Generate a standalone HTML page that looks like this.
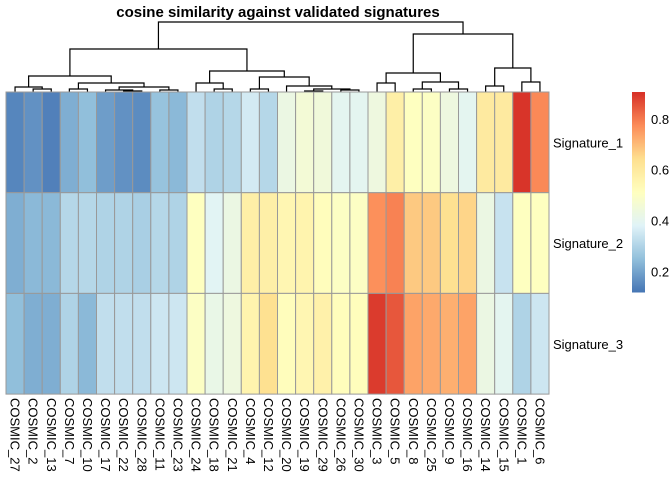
<!DOCTYPE html>
<html><head><meta charset="utf-8"><style>
html,body{margin:0;padding:0;background:#fff;}
svg{display:block;font-family:"Liberation Sans",Arial,sans-serif;}
</style></head><body>
<svg id="chart" width="672" height="480" viewBox="0 0 672 480">
<text x="278" y="17" text-anchor="middle" font-size="15" font-weight="bold">cosine similarity against validated signatures</text>
<g id="dendro"></g>
<g id="cells"></g>
<g id="collabels"></g>
<g id="rowlabels"></g>
<g id="legend"></g>
</svg>
<script>
const columns = ["COSMIC_27","COSMIC_2","COSMIC_13","COSMIC_7","COSMIC_10","COSMIC_17","COSMIC_22","COSMIC_28","COSMIC_11","COSMIC_23","COSMIC_24","COSMIC_18","COSMIC_21","COSMIC_4","COSMIC_12","COSMIC_20","COSMIC_19","COSMIC_29","COSMIC_26","COSMIC_30","COSMIC_3","COSMIC_5","COSMIC_8","COSMIC_25","COSMIC_9","COSMIC_16","COSMIC_14","COSMIC_15","COSMIC_1","COSMIC_6"];
const rows = ["Signature_1","Signature_2","Signature_3"];
const sig1 = [0.15,0.17,0.14,0.22,0.25,0.19,0.17,0.16,0.26,0.24,0.33,0.30,0.31,0.36,0.31,0.43,0.46,0.45,0.40,0.40,0.44,0.58,0.51,0.50,0.44,0.40,0.60,0.60,0.90,0.78];
const sig2 = [0.22,0.24,0.24,0.31,0.31,0.30,0.30,0.29,0.31,0.30,0.51,0.39,0.43,0.58,0.58,0.55,0.56,0.52,0.50,0.50,0.77,0.79,0.68,0.68,0.64,0.66,0.43,0.34,0.51,0.51];
const sig3 = [0.25,0.22,0.22,0.30,0.24,0.33,0.33,0.33,0.35,0.35,0.50,0.42,0.44,0.56,0.64,0.52,0.55,0.57,0.52,0.52,0.89,0.85,0.74,0.73,0.72,0.74,0.43,0.40,0.30,0.35];
const legendTicks = [0.2,0.4,0.6,0.8];
// dendrogram: [left, right, height]; numbers = leaf index, arrays = subtree
const tree = [
  [
    [
      [0,[1,2,3],5],
      [[3,4,3],[[5,[6,7,1],2],[8,9,2],5],9],
      16],
    [
      [10,[11,12,3],9],
      [[13,14,3],[15,[[16,17,1],[18,19,2],3],6],15],
      21],
    43],
  [
    [[20,21,9],[[22,23,3],[24,25,3],10],19],
    [[26,27,6],[28,29,10],24],
    58],
  70];

const NS="http://www.w3.org/2000/svg";
const X0=6, CW=18.1, Y0=92, RH=100.7, VMIN=0.12, VMAX=0.905;
const xCol = i => X0 + CW*i;
const yRow = r => Y0 + RH*r;
const yH = h => Y0 - h;
const pal = ["#4575B4","#91BFDB","#E0F3F8","#FFFFBF","#FEE090","#FC8D59","#D73027"];
function hex(c){return [1,3,5].map(k=>parseInt(c.substr(k,2),16));}
function color(v){
  let t=Math.max(0,Math.min(1,(v-VMIN)/(VMAX-VMIN)))*(pal.length-1);
  let i=Math.min(Math.floor(t),pal.length-2), f=t-i;
  let a=hex(pal[i]), b=hex(pal[i+1]);
  return "rgb("+a.map((x,k)=>Math.round(x+(b[k]-x)*f)).join(",")+")";
}
function mk(tag,attrs,parent){const e=document.createElementNS(NS,tag);for(const k in attrs)e.setAttribute(k,attrs[k]);parent.appendChild(e);return e;}

const cells=document.getElementById("cells");
[sig1,sig2,sig3].forEach((series,r)=>{
  series.forEach((v,i)=>{
    const el=mk("rect",{x:xCol(i),y:yRow(r),width:CW,height:RH,fill:color(v),stroke:"#999999","stroke-width":1},cells);
    
    
  });
});

const cl=document.getElementById("collabels");
columns.forEach((c,i)=>{
  const cx=xCol(i)+CW/2-4.5, cy=398;
  const t=mk("text",{x:cx,y:cy,"font-size":13,transform:"rotate(90 "+cx+" "+cy+")"},cl);
  t.textContent=c;
  
  
});
const rl=document.getElementById("rowlabels");
rows.forEach((r,k)=>{
  const t=mk("text",{x:553,y:yRow(k)+RH/2+5,"font-size":13},rl);
  t.textContent=r;
  
  
});

const dg=document.getElementById("dendro");
function draw(n){
  if(typeof n==="number") return {x:xCol(n)+CW/2,y:Y0};
  const a=draw(n[0]), b=draw(n[1]), y=yH(n[2]);
  const p=mk("path",{d:`M${a.x},${a.y}V${y}H${b.x}V${b.y}`,fill:"none",stroke:"#000","stroke-width":1.2},dg);
  
  
  return {x:(a.x+b.x)/2,y:y};
}
draw(tree);

const lg=document.getElementById("legend");
const LT=92, LB=292, LX=632, LW=13;
const yL = v => LB - (v-VMIN)/(VMAX-VMIN)*(LB-LT);
for(let k=0;k<100;k++){
  const v0=VMIN+(VMAX-VMIN)*k/100, v1=VMIN+(VMAX-VMIN)*(k+1)/100;
  const r=mk("rect",{x:LX,y:yL(v1),width:LW,height:yL(v0)-yL(v1)+0.5,fill:color((v0+v1)/2)},lg);
  
  
}
legendTicks.forEach(v=>{
  const t=mk("text",{x:651,y:yL(v)+5,"font-size":13},lg);
  t.textContent=v.toFixed(1);
  
  
});
</script>
</body></html>
